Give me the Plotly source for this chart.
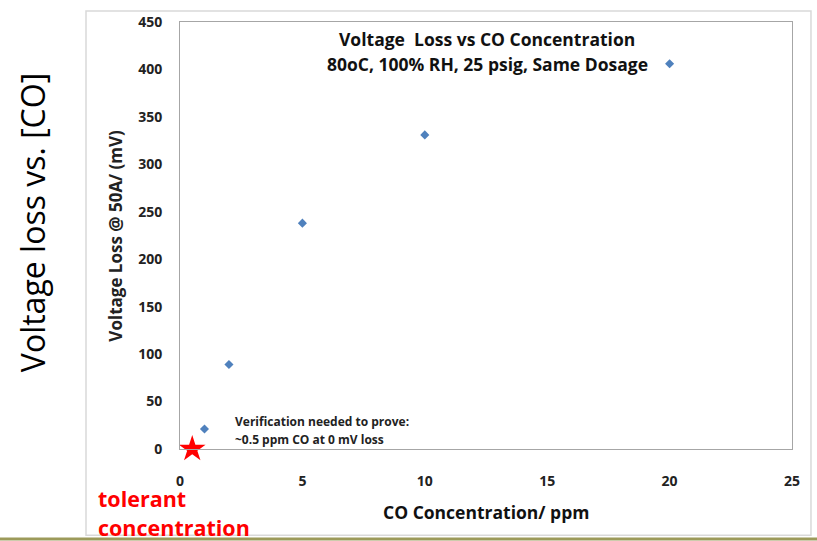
import plotly.graph_objects as go

# Measured voltage loss at 50 A vs CO concentration
co_ppm = [1, 2, 5, 10, 20]
voltage_loss_mv = [21, 89, 238, 331, 406]

# Estimated tolerant concentration
tolerant_ppm = [0.5]
tolerant_loss_mv = [0]

x_ticks = [0, 5, 10, 15, 20, 25]
y_ticks = [0, 50, 100, 150, 200, 250, 300, 350, 400, 450]

FONT = "Open Sans"

fig = go.Figure()

fig.add_trace(go.Scatter(
    x=co_ppm, y=voltage_loss_mv, mode="markers",
    marker=dict(symbol="diamond", size=7, color="#4F81BD"),
    showlegend=False, cliponaxis=False,
))

fig.add_trace(go.Scatter(
    x=tolerant_ppm, y=tolerant_loss_mv, mode="markers",
    marker=dict(symbol="star", size=20, color="#FF0000", line=dict(width=0)),
    showlegend=False, cliponaxis=False,
))

axis_common = dict(
    showgrid=False, zeroline=False, showline=True, mirror=True,
    linecolor="#A6A6A6", linewidth=1,
    ticks="outside", tickcolor="rgba(0,0,0,0)",
    tickfont=dict(family=FONT, size=14, color="#222222", weight="bold"),
)

fig.update_xaxes(range=[0, 25], tickvals=x_ticks, ticklen=19, **axis_common)
fig.update_yaxes(range=[0, 450], tickvals=y_ticks, ticklen=14, **axis_common)

annotations = [
    dict(text="Voltage  Loss vs CO Concentration", x=0.502, y=0.96,
         font=dict(size=17.5, color="#111111", weight="bold")),
    dict(text="80oC, 100% RH, 25 psig, Same Dosage", x=0.502, y=0.902,
         font=dict(size=17.5, color="#111111", weight="bold")),
    dict(text="Verification needed to prove:", x=0.087, y=0.065, xanchor="left",
         font=dict(size=12, color="#222222", weight="bold")),
    dict(text="~0.5 ppm CO at 0 mV loss", x=0.087, y=0.023, xanchor="left",
         font=dict(size=12, color="#222222", weight="bold")),
    dict(text="Voltage Loss @ 50A/ (mV)", x=-0.106, y=0.5, textangle=-90,
         font=dict(size=17, color="#222222", weight="bold")),
    dict(text="CO Concentration/ ppm", x=0.5, y=-0.147,
         font=dict(size=17.5, color="#111111", weight="bold")),
    dict(text="Voltage loss vs. [CO]", x=-0.241, y=0.53, textangle=-90,
         font=dict(size=32, color="#000000")),
    dict(text="tolerant", x=-0.137, y=-0.115, xanchor="left",
         font=dict(size=21.5, color="#FF0000", weight="bold")),
    dict(text="concentration", x=-0.137, y=-0.183, xanchor="left",
         font=dict(size=21.5, color="#FF0000", weight="bold")),
]
for a in annotations:
    a.update(xref="paper", yref="paper", showarrow=False)
    a.setdefault("xanchor", "center")
    a.setdefault("yanchor", "middle")
    a["font"].setdefault("family", FONT)

fig.update_layout(
    width=817, height=541,
    margin=dict(l=180, r=25, t=19, b=92),
    plot_bgcolor="white", paper_bgcolor="white",
    annotations=annotations,
    shapes=[
        # chart frame
        dict(type="rect", xref="paper", yref="paper",
             x0=-0.1536, x1=1.031, y0=-0.202, y1=1.026,
             line=dict(color="#D9D9D9", width=1.5), layer="below"),
        # slide footer rule
        dict(type="line", xref="paper", yref="paper",
             x0=-0.3, x1=1.05, y0=-0.2105, y1=-0.2105,
             line=dict(color="#9C9A5A", width=3)),
    ],
)

fig.write_html("out.html")
